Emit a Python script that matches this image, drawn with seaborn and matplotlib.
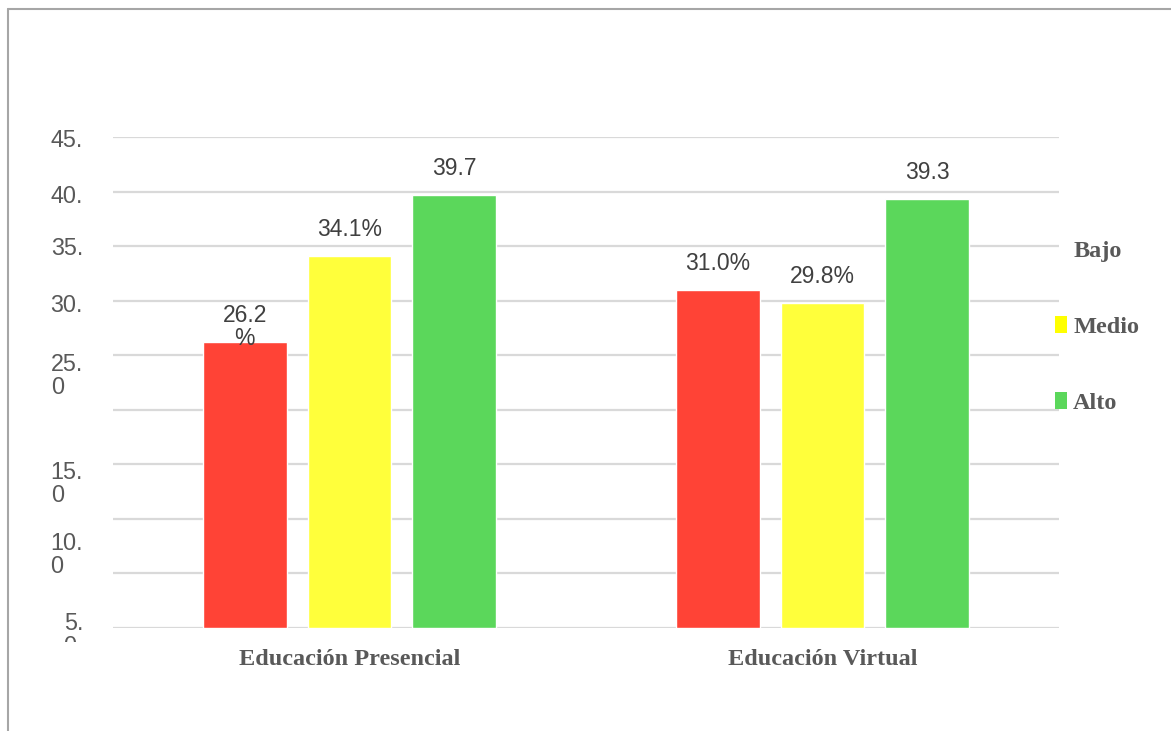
import numpy as np
import pandas as pd
import matplotlib
matplotlib.use("Agg")
import matplotlib.pyplot as plt
from matplotlib.lines import Line2D
from matplotlib.patches import Patch
from matplotlib.transforms import Bbox, blended_transform_factory
from matplotlib.font_manager import FontProperties
import seaborn as sns

# ---- data -------------------------------------------------------------
grupos = ["Educación Presencial", "Educación Virtual"]
niveles = ["Bajo", "Medio", "Alto"]
bajo = [26.2, 31.0]
medio = [34.1, 29.8]
alto = [39.7, 39.3]
etiquetas_bajo = ["26.2\n%", "31.0%"]
etiquetas_medio = ["34.1%", "29.8%"]
etiquetas_alto = ["39.7", "39.3"]

# y-axis text as it is printed beside the grid (top edge of each label)
ytick_labels = ["45.", "40.", "35.", "30.", "25.\n0", "15.\n0", "10.\n0", "5.\n0"]
ytick_label_at = [45.7, 40.6, 35.8, 30.6, 25.2, 15.3, 8.8, 1.5]

colores = ["#FF4336", "#FFFF3B", "#5BD75B"]
color_leyenda = ["none", "#FFFF00", "#5BD75B"]

df = pd.DataFrame({
    "grupo": grupos * 3,
    "nivel": [n for n in niveles for _ in grupos],
    "valor": bajo + medio + alto,
})
etiquetas = [etiquetas_bajo, etiquetas_medio, etiquetas_alto]

# ---- figure -----------------------------------------------------------
sns.set_theme(style="white")
plt.rcParams["font.family"] = ["Liberation Sans", "DejaVu Sans"]

W, H = 1171, 731
fig = plt.figure(figsize=(W / 100, H / 100), dpi=100)
fig.patch.set_facecolor("white")
ax = fig.add_axes([113 / W, 1 - 628 / H, (1059 - 113) / W, (628 - 137) / H])

sns.barplot(data=df, x="grupo", y="valor", hue="nivel", order=grupos,
            hue_order=niveles, palette=colores, saturation=1,
            width=0.664, gap=0.2, legend=False, ax=ax)

ax.set_xlim(-0.5, 1.5)
ax.set_ylim(0, 45)
ax.set_yticks(np.arange(0, 50, 5))
ax.grid(axis="y", color="#d9d9d9", lw=1.6)
ax.set_axisbelow(True)
for s in ax.spines.values():
    s.set_visible(False)
ax.set_xlabel("")
ax.set_ylabel("")
ax.tick_params(axis="y", labelleft=False, length=0)
ax.tick_params(axis="x", length=0, pad=15)
serif_bold = FontProperties(family="Liberation Serif", weight="bold", size=17.5)
for t in ax.get_xticklabels():
    t.set_fontproperties(serif_bold)
    t.set_color("#595959")

# value labels above each bar
for cont, labs in zip(ax.containers, etiquetas):
    for bar, lab in zip(cont, labs):
        off = 19 - 8 * lab.count("\n")
        ax.annotate(lab, (bar.get_x() + bar.get_width() / 2, bar.get_height()),
                    xytext=(0, off), textcoords="offset points",
                    ha="center", va="center", multialignment="center",
                    fontsize=16.5, color="#404040", linespacing=1.0,
                    annotation_clip=False)

# y-axis labels (the lowest one is cut off at the bottom of the plot band)
tr = blended_transform_factory(fig.transFigure, ax.transData)
for lab, yv in zip(ytick_labels, ytick_label_at):
    t = ax.text(83 / W, yv, lab, transform=tr, ha="right", va="top",
                multialignment="left", fontsize=16.8, color="#595959",
                linespacing=1.0)
    t.set_clip_box(Bbox([[0, H - 642], [W, H]]))
    t.set_clip_on(True)

# legend
handles = [Patch(facecolor=c, edgecolor="none") for c in color_leyenda]
leg = ax.legend(handles, niveles, loc="upper left",
                bbox_to_anchor=(1055 / W, 1 - 240 / H),
                bbox_transform=fig.transFigure, frameon=False,
                prop=serif_bold, labelcolor="#595959",
                handlelength=0.5, handleheight=0.7, handletextpad=0.25,
                labelspacing=2.22, borderpad=0, borderaxespad=0)

# outer frame (top and left edges)
fig.add_artist(Line2D([8 / W, 1], [1 - 9 / H] * 2, transform=fig.transFigure,
                      color="#a6a6a6", lw=1.5))
fig.add_artist(Line2D([8 / W] * 2, [0, 1 - 9 / H], transform=fig.transFigure,
                      color="#a6a6a6", lw=1.5))

fig.savefig("out.png", dpi=100, facecolor="white")
